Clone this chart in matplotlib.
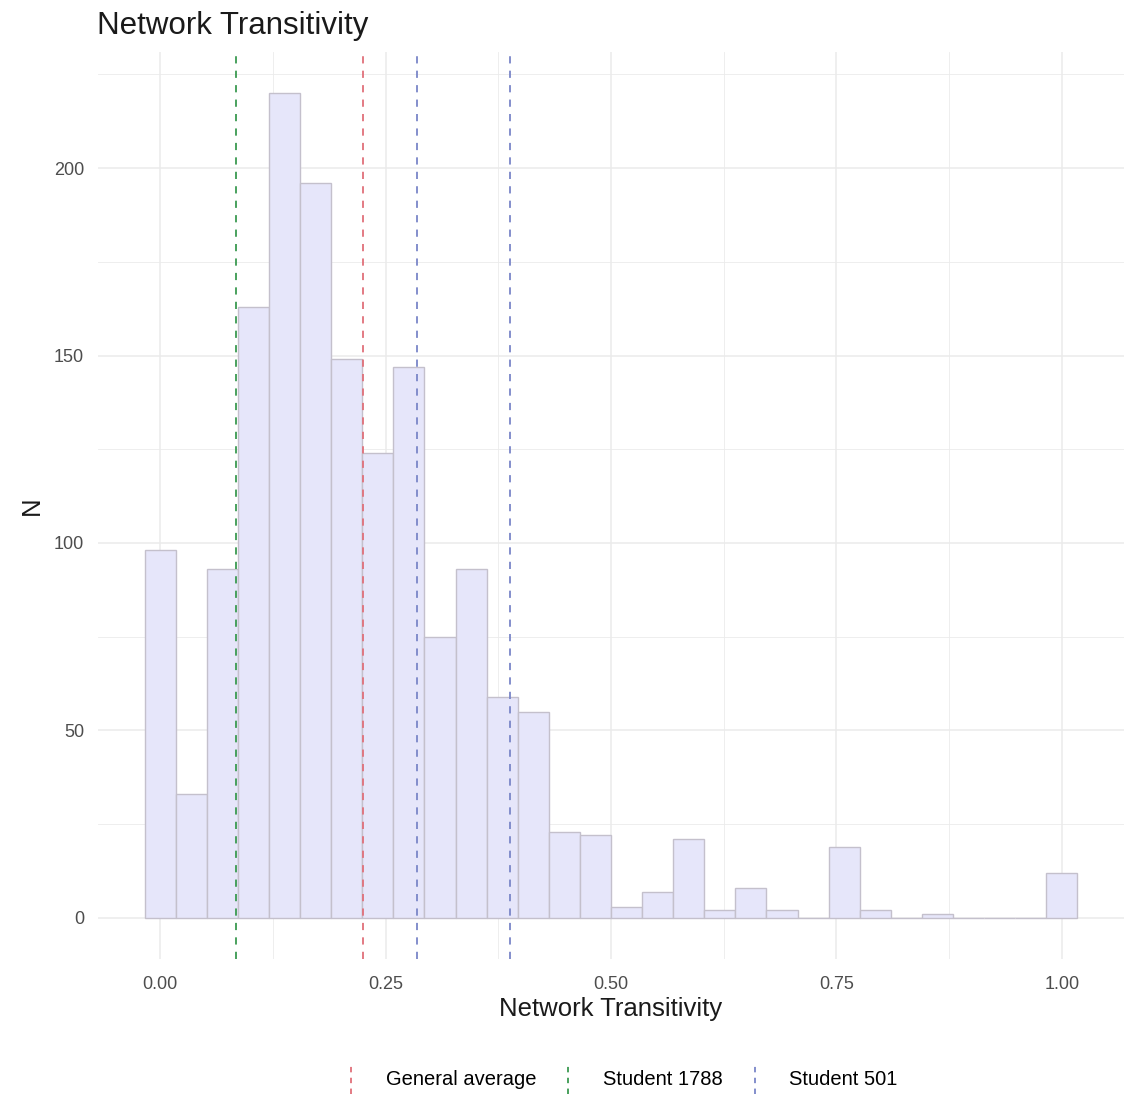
import numpy as np
import matplotlib
matplotlib.use("Agg")
import matplotlib.pyplot as plt
from matplotlib.lines import Line2D
from matplotlib.legend_handler import HandlerBase

plt.rcParams['font.family'] = ['Liberation Sans', 'DejaVu Sans']

# ---- data ----
n_bins = 30
bin_lo, bin_hi = 0.0, 1.0
counts = [98, 33, 93, 163, 220, 196, 149, 124, 147, 75, 93, 59, 55, 23, 22,
          3, 7, 21, 2, 8, 2, 0, 19, 2, 0, 1, 0, 0, 0, 12]
ref_labels = ["General average", "Student 1788", "Student 501"]
ref_values = [0.225, 0.0843, 0.285]
extra_value = 0.388
x_ticks = [0.0, 0.25, 0.5, 0.75, 1.0]
x_ticklabels = ["0.00", "0.25", "0.50", "0.75", "1.00"]
y_ticks = [0, 50, 100, 150, 200]

centers = np.linspace(bin_lo, bin_hi, n_bins)
width = centers[1] - centers[0]

colors = ["#E0707A", "#3A9A50", "#7A86C8"]
grid_c = "#EBEBEB"

fig = plt.figure(figsize=(11.3, 11.03), dpi=100)
ax = fig.add_axes([0.0867, 0.1305, 0.908, 0.8224])

ax.bar(centers, counts, width=width, color="#E6E6FA", edgecolor="#C4C0CC",
       linewidth=1.0, zorder=2)

for v, c in zip(ref_values, colors):
    ax.axvline(v, color=c, linestyle=(0, (4, 4)), linewidth=1.3, zorder=3)
ax.axvline(extra_value, color=colors[2], linestyle=(0, (4, 4)), linewidth=1.3, zorder=3)

xlo = bin_lo - width / 2
xhi = bin_hi + width / 2
xpad = (xhi - xlo) * 0.05
ax.set_xlim(xlo - xpad, xhi + xpad)
ymax = max(counts)
ax.set_ylim(-ymax * 0.05, ymax * 1.05)

ax.set_xticks(x_ticks)
ax.set_xticklabels(x_ticklabels)
ax.set_yticks(y_ticks)
ax.set_xticks([0.125, 0.375, 0.625, 0.875], minor=True)
ax.set_yticks([25, 75, 125, 175, 225], minor=True)
ax.grid(True, which="major", color=grid_c, linewidth=1.1, zorder=0)
ax.grid(True, which="minor", color=grid_c, linewidth=0.6, zorder=0)
ax.set_axisbelow(True)
for s in ax.spines.values():
    s.set_visible(False)
ax.tick_params(which="both", length=0, labelsize=13, labelcolor="#4D4D4D")
ax.tick_params(axis="x", pad=12)
ax.tick_params(axis="y", pad=10)

ax.set_xlabel("Network Transitivity", fontsize=18.5, color="#1a1a1a", labelpad=3)
ax.set_ylabel("N", fontsize=18.5, color="#1a1a1a", labelpad=7)
fig.text(0.0858, 0.963, "Network Transitivity", fontsize=22.5, color="#1a1a1a",
         ha="left", va="bottom")


class VLineHandler(HandlerBase):
    def create_artists(self, legend, orig, xd, yd, w, h, fontsize, trans):
        x = xd + w / 2
        ln = Line2D([x, x], [yd - h * 0.6, yd + h * 1.6], color=orig.get_color(),
                    linestyle=(0, (3, 3)), linewidth=1.3, transform=trans)
        return [ln]


handles = [Line2D([], [], color=c) for c in colors]
fig.legend(handles, ref_labels, loc="center", bbox_to_anchor=(0.548, 0.021),
           ncol=3, frameon=False, fontsize=14.5, handler_map={Line2D: VLineHandler()},
           handlelength=1.0, columnspacing=1.1, handletextpad=1.2)

fig.savefig("out.png", dpi=100, facecolor="white")
